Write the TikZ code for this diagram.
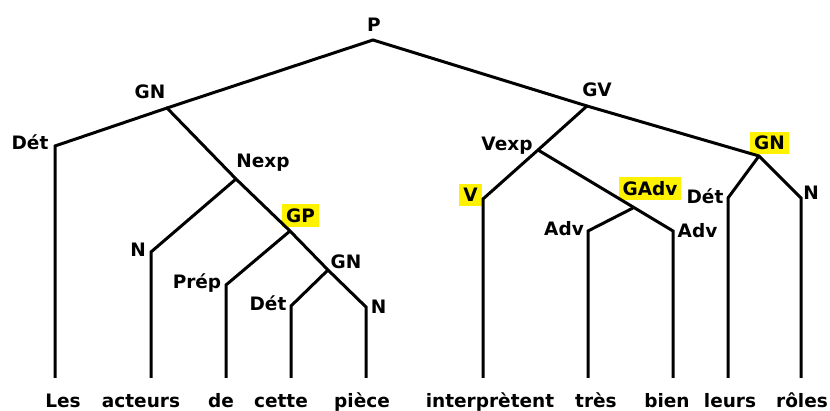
\documentclass[tikz,border=0pt]{standalone}
\usepackage{fontspec}
\setmainfont{DejaVu Sans}
\usetikzlibrary{calc}
\tikzstyle{br}=[line width=3pt, line join=miter]
\tikzstyle{lbl}=[font=\fontsize{18.5}{20}\selectfont\bfseries, inner sep=0,
		text height=13.5pt, text depth=0pt]
\tikzstyle{hl}=[lbl, fill=yellow, inner xsep=4pt, inner ysep=4.5pt]
\tikzstyle{wd}=[lbl]

\begin{document}
\begin{tikzpicture}[x=1pt, y=-1pt]
            \useasboundingbox (0,0) rectangle (830,411);
            % junctions
            \coordinate (p) at (373,40);
            \coordinate (gn1) at (167,108);
            \coordinate (det1) at (55,146);
            \coordinate (nexp) at (236,179);
            \coordinate (n1) at (151,252);
            \coordinate (gp) at (290,231);
            \coordinate (prep) at (226,285);
            \coordinate (gn2) at (328,270);
            \coordinate (det2) at (291,306);
            \coordinate (n2) at (366,307);
            \coordinate (gv) at (587,106);
            \coordinate (vexp) at (538,150);
            \coordinate (v) at (483,199);
            \coordinate (gadv) at (633,208);
            \coordinate (adv1) at (588,231);
            \coordinate (adv2) at (673,231);
            \coordinate (gn3) at (759,156);
            \coordinate (det3) at (728,198);
            \coordinate (n3) at (801,198);
            % leaf tops
            \coordinate (l1) at (55,378);
            \coordinate (l2) at (151,378);
            \coordinate (l3) at (226,378);
            \coordinate (l4) at (291,378);
            \coordinate (l5) at (366,378);
            \coordinate (l6) at (483,378);
            \coordinate (l7) at (588,378);
            \coordinate (l8) at (673,378);
            \coordinate (l9) at (728,378);
            \coordinate (l10) at (801,378);

            % labels
            \node[lbl] (pL) at (374,25) {P};
            \node[lbl] (gn1L) at (150,92) {GN};
            \node[lbl] (det1L) at (30,143) {Dét};
            \node[lbl] (nexpL) at (263,161) {Nexp};
            \node[lbl] (n1L) at (138,250) {N};
            \node[hl] (gpL) at (300.5,215.5) {GP};
            \node[lbl] (prepL) at (197,282) {Prép};
            \node[lbl] (gn2L) at (346,261.5) {GN};
            \node[lbl] (det2L) at (268,303.5) {Dét};
            \node[lbl] (n2L) at (378.5,307) {N};
            \node[lbl] (gvL) at (597,89.5) {GV};
            \node[lbl] (vexpL) at (507,144) {Vexp};
            \node[hl] (vL) at (470.5,195) {V};
            \node[hl] (gadvL) at (650,188.5) {GAdv};
            \node[lbl] (adv1L) at (564,229) {Adv};
            \node[lbl] (adv2L) at (697.5,231) {Adv};
            \node[hl] (gn3L) at (769.5,143) {GN};
            \node[lbl] (det3L) at (705,197) {Dét};
            \node[lbl] (n3L) at (811,192.5) {N};

            % words
            \node[wd] (w1) at (63,400.5) {Les};
            \node[wd] (w2) at (141,400.5) {acteurs};
            \node[wd] (w3) at (221,400.5) {de};
            \node[wd] (w4) at (281,400.5) {cette};
            \node[wd] (w5) at (362,400.5) {pièce};
            \node[wd] (w6) at (490,400.5) {interprètent};
            \node[wd] (w7) at (596,400.5) {très};
            \node[wd] (w8) at (667,400.5) {bien};
            \node[wd] (w9) at (730,400.5) {leurs};
            \node[wd] (w10) at (802,400.5) {rôles};

            % branches
            \draw[br] (gn1) -- (p) -- (gv);
            \draw[br] (l1) -- (det1) -- (gn1) -- (nexp) -- (gp) -- (gn2) -- (n2) -- (l5);
            \draw[br] (l2) -- (n1) -- (nexp);
            \draw[br] (l3) -- (prep) -- (gp);
            \draw[br] (l4) -- (det2) -- (gn2);
            \draw[br] (l6) -- (v) -- (vexp) -- (gv) -- (gn3) -- (n3) -- (l10);
            \draw[br] (vexp) -- (adv2) -- (l8);
            \draw[br] (l7) -- (adv1) -- (gadv);
            \draw[br] (l9) -- (det3) -- (gn3);
        \end{tikzpicture}
\end{document}
